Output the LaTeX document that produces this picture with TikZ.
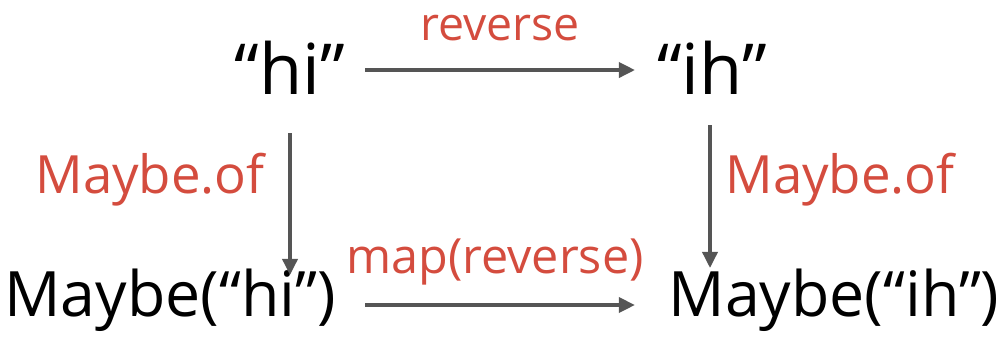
\documentclass[tikz,border=0pt]{standalone}
\usepackage{fontspec}
\setmainfont{Open Sans}
\usetikzlibrary{arrows.meta}
\definecolor{lblred}{RGB}{212,76,62}
\definecolor{arrgray}{RGB}{85,85,85}
\begin{document}
\begin{tikzpicture}[x=0.01cm,y=0.01cm,
  obj/.style={inner sep=0pt,font=\fontsize{17.8}{22}\selectfont,text=black},
  topobj/.style={obj,font=\fontsize{20}{24}\selectfont},
  lbl/.style={inner sep=0pt,font=\fontsize{15}{18}\selectfont,text=lblred},
  arr/.style={draw=arrgray,line width=1pt,-{Triangle[length=0.16cm,width=0.15cm]}}]
\useasboundingbox (0,0) rectangle (1000,350);
\node[topobj] (hi) at (290,282) {“hi”};
\node[topobj] (ih) at (712,282) {“ih”};
\node[obj] (mhi) at (170,50) {Maybe(“hi”)};
\node[obj] (mih) at (834,50) {Maybe(“ih”)};
\node[lbl,font=\fontsize{13.2}{16}\selectfont] (rev) at (500,322) {reverse};
\node[lbl] (mof1) at (150,170) {Maybe.of};
\node[lbl] (mof2) at (840,170) {Maybe.of};
\node[lbl,font=\fontsize{13.8}{16}\selectfont] (mrev) at (495,88) {map(reverse)};
\draw[arr] ([xshift=0.75cm,yshift=-0.02cm]hi.center) -- ([xshift=-0.77cm,yshift=-0.02cm]ih.center);
\draw[arr] ([yshift=-0.65cm]hi.center) -- ([yshift=0.25cm]hi.center |- mhi.center);
\draw[arr] ([xshift=-0.02cm,yshift=-0.57cm]ih.center) -- ([xshift=-0.02cm,yshift=0.32cm]ih.center |- mih.center);
\draw[arr] ([xshift=1.95cm,yshift=-0.05cm]mhi.center) -- ([xshift=-1.99cm,yshift=-0.05cm]mih.center);
\end{tikzpicture}
\end{document}
